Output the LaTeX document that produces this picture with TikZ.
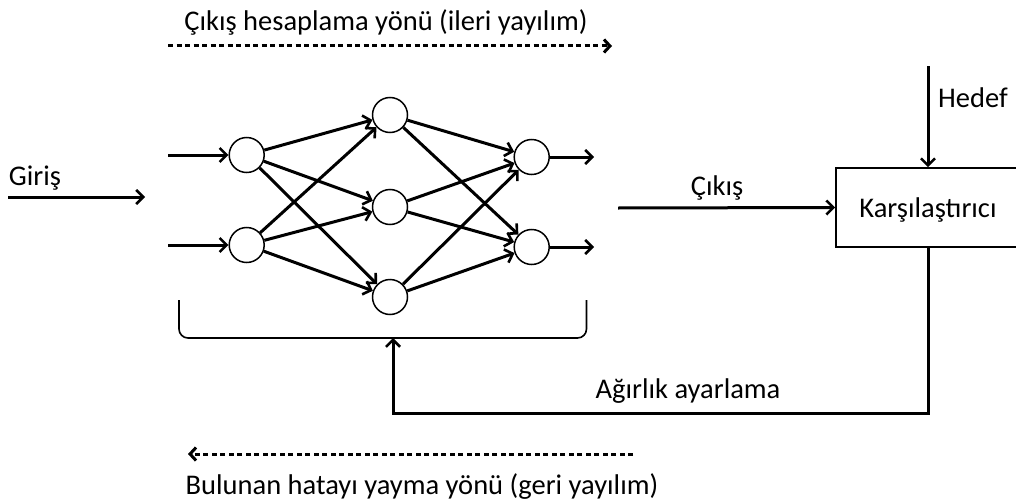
\documentclass[tikz,border=0pt]{standalone}
\usepackage{fontspec}
\setmainfont{Carlito}
\usetikzlibrary{arrows.meta}
\begin{document}
\begin{tikzpicture}[x=1pt,y=-1pt,
  txt/.style={inner sep=0pt,font=\fontsize{28.5}{33}\selectfont},
  neuron/.style={circle,draw,line width=1.5pt,minimum size=35pt,inner sep=0pt},
  conn/.style={line width=3pt,-{Straight Barb[length=7pt,width=14pt,line width=2.6pt]}},
  dline/.style={line width=3pt,dash pattern=on 5pt off 3.5pt,-{Straight Barb[length=6pt,width=13pt,line width=3pt]}}]
\useasboundingbox (0,0) rectangle (1016,503);
% neurons
\node[neuron] (i1) at (246.7,155) {};
\node[neuron] (i2) at (246.7,245) {};
\node[neuron] (h1) at (390,115) {};
\node[neuron] (h2) at (390,207) {};
\node[neuron] (h3) at (390,297) {};
\node[neuron] (o1) at (531.7,157) {};
\node[neuron] (o2) at (531.7,247) {};
% input / output stubs
\coordinate (a1) at (168,155);
\coordinate (a2) at (168,245);
\coordinate (b1) at (594,157);
\coordinate (b2) at (594,247);
\draw[conn] (a1) -- (i1);
\draw[conn] (a2) -- (i2);
\draw[conn] (o1) -- (b1);
\draw[conn] (o2) -- (b2);
\foreach \s in {i1,i2} \foreach \t in {h1,h2,h3} \draw[conn] (\s) -- (\t);
\foreach \s in {h1,h2,h3} \foreach \t in {o1,o2} \draw[conn] (\s) -- (\t);
% bracket
\coordinate (brL) at (179,300);
\coordinate (brR) at (586.5,300);
\coordinate (brM) at (393,338);
\draw[line width=1.6pt,rounded corners=9pt] (brL) -- (179,338) -- (586.5,338) -- (brR);
% top and bottom dashed arrows
\node[txt] (toptxt) at (386,22) {Çıkış hesaplama yönü (ileri yayılım)};
\coordinate (t1) at (168,46);
\coordinate (t2) at (612,46);
\draw[dline] (t1) -- (t2);
\node[txt] (bottxt) at (422,487) {Bulunan hatayı yayma yönü (geri yayılım)};
\coordinate (u1) at (633,454);
\coordinate (u2) at (188,454);
\draw[dline] (u1) -- (u2);
% input
\node[txt] (giris) at (35,178) {Giriş};
\coordinate (g1) at (8,197);
\coordinate (g2) at (145,197);
\draw[conn] (g1) -- (g2);
% comparator
\node[draw,line width=1.6pt,minimum width=184pt,minimum height=79pt,inner sep=0pt] (cmp) at (928,207.5) {};
\node[txt] (cmptxt) at (928,210) {Karşılaştırıcı};
\coordinate (c0) at (618,208);
\draw[conn] (c0) -- (cmp.west);
\node[txt] (cikis) at (717,188) {Çıkış};
\coordinate (h0) at (928,66);
\draw[conn] (h0) -- (cmp.north);
\node[txt,anchor=west] (hedef) at (938,98) {Hedef};
% feedback
\coordinate (f1) at (928,413);
\coordinate (f2) at (393,413);
\draw[conn] (cmp.south) -- (f1) -- (f2) -- (brM);
\node[txt] (agir) at (688,391) {Ağırlık ayarlama};
\end{tikzpicture}
\end{document}
